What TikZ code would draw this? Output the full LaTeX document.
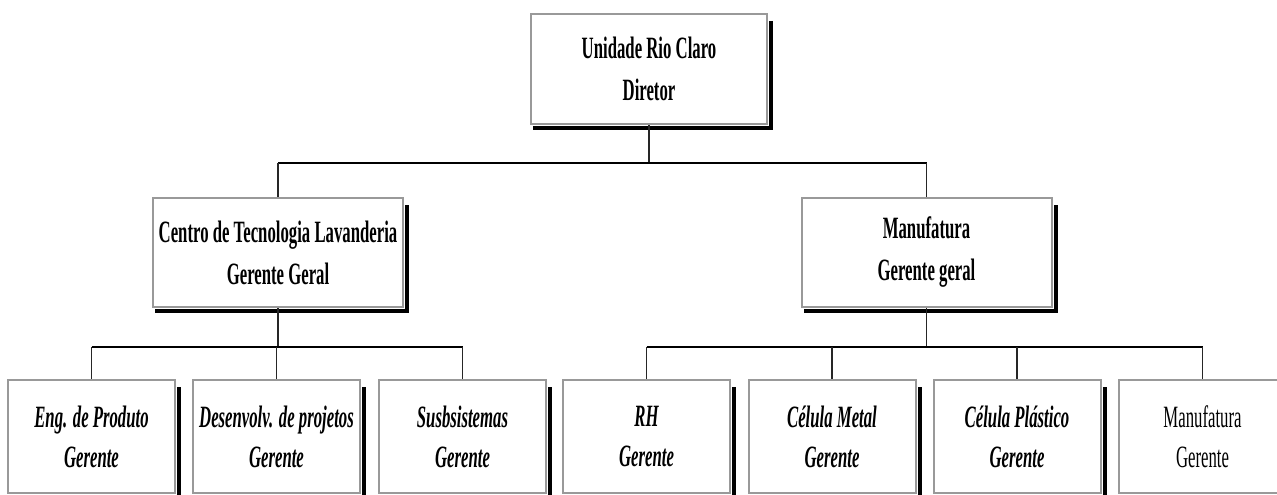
\documentclass[tikz,border=0pt]{standalone}
\usepackage{fontspec}
\setmainfont{Liberation Serif}[FakeStretch=0.54]
\begin{document}
\begin{tikzpicture}[x=1pt,y=-1pt,
  orgbox/.style={draw=gray!80, line width=2pt, fill=white, inner sep=0pt, align=center},
  topbox/.style={orgbox, minimum width=236pt, minimum height=110pt, font=\fontsize{31}{42}\selectfont\bfseries},
  midbox/.style={orgbox, minimum width=250pt, minimum height=109pt, font=\fontsize{31}{42}\selectfont\bfseries},
  lowbox/.style={orgbox, minimum width=167pt, minimum height=113pt, font=\fontsize{31}{40}\selectfont\bfseries\itshape},
  plainbox/.style={orgbox, minimum width=167pt, minimum height=113pt, font=\fontsize{31}{40}\selectfont},
  shadowline/.style={draw=black, line width=4pt, line cap=butt},
  stub/.style={line width=1.2pt, draw=black!85},
  bus/.style={line width=2.8pt, draw=black}]
\path[use as bounding box] (0,0) rectangle (1277,495);

% director
\node[topbox] (dir) at (649,69) {Unidade Rio Claro\\Diretor};

% general managers
\node[midbox] (ctl) at (278,252.5) {Centro de Tecnologia Lavanderia\\Gerente Geral};
\node[midbox] (man) at (926.5,252.5) {Manufatura\\Gerente geral};

% managers under the technology centre
\node[lowbox] (eng) at (91.5,436.5) {Eng. de Produto\\Gerente};
\node[lowbox] (des) at (276.5,436.5) {Desenvolv. de projetos\\Gerente};
\node[lowbox] (sub) at (462.5,436.5) {Susbsistemas\\Gerente};

% managers under manufacturing
\node[lowbox] (rh) at (646.5,436.5) {RH\\Gerente};
\node[lowbox] (cme) at (832,436.5) {Célula Metal\\Gerente};
\node[lowbox] (cpl) at (1017,436.5) {Célula Plástico\\Gerente};
\node[plainbox] (mfg) at (1202.5,436.5) {Manufatura\\Gerente};

% heavy shadow along the right and bottom edge of each box
\foreach \n in {dir,ctl,man,eng,des,sub,rh,cme,cpl,mfg}
  \draw[shadowline] ([shift={(3,8)}]\n.north east) -- ([shift={(3,3)}]\n.south east)
                    -- ([shift={(3,3)}]\n.south west);

% bus heights
\coordinate (b1) at (0,163);
\coordinate (b2) at (0,347);

% director to general managers
\draw[stub] (dir.south) -- (dir.south |- b1);
\draw[bus] (ctl.north |- b1) -- (man.north |- b1);
\draw[stub] (ctl.north |- b1) -- (ctl.north);
\draw[stub] (man.north |- b1) -- (man.north);

% technology centre branch
\draw[stub] (ctl.south) -- (ctl.south |- b2);
\draw[bus] (eng.north |- b2) -- (sub.north |- b2);
\foreach \n in {eng,des,sub} \draw[stub] (\n.north |- b2) -- (\n.north);

% manufacturing branch
\draw[stub] (man.south) -- (man.south |- b2);
\draw[bus] (rh.north |- b2) -- (mfg.north |- b2);
\foreach \n in {rh,cme,cpl,mfg} \draw[stub] (\n.north |- b2) -- (\n.north);
\end{tikzpicture}
\end{document}
